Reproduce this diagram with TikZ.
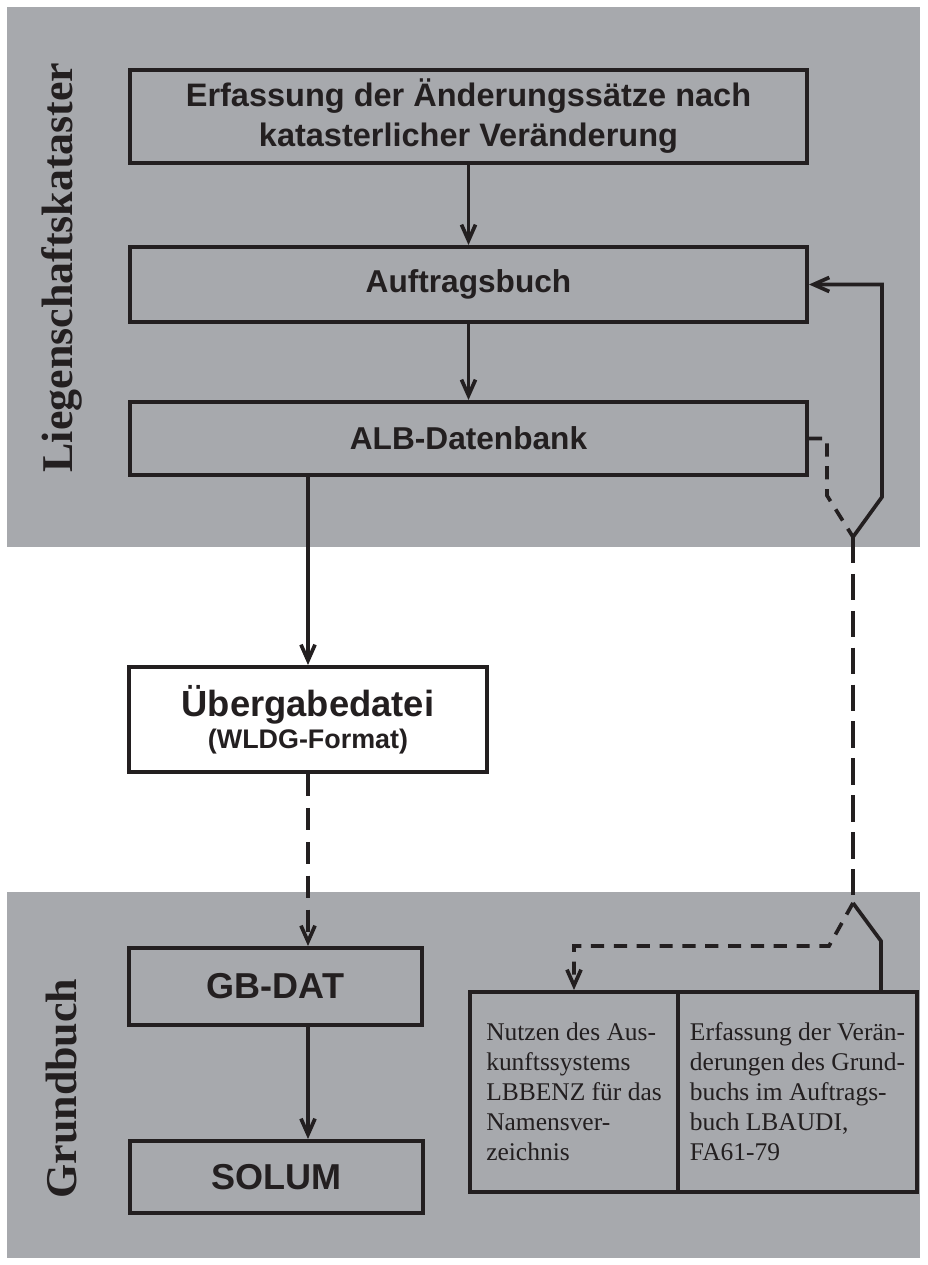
\documentclass[tikz,border=0pt]{standalone}
\usepackage{fontspec}
\setmainfont{Liberation Serif}
\setsansfont{Liberation Sans}
\usetikzlibrary{arrows.meta,positioning,calc}
\definecolor{bandgray}{RGB}{167,169,173}
\definecolor{ink}{RGB}{35,31,32}

\begin{document}
\begin{tikzpicture}[x=0.02cm, y=-0.02cm]
\tikzstyle{box} = [rectangle, draw=ink, line width=2.3pt, text=ink, inner sep=0pt, align=center, font=\sffamily\bfseries\fontsize{18}{22}\selectfont]
\tikzstyle{cell} = [rectangle, draw=ink, line width=2.3pt, text=ink, inner sep=0pt, align=left, minimum height=4cm, font=\fontsize{14.5}{17.1}\selectfont]
\tikzstyle{band} = [rotate=90, text=ink, inner sep=0pt, font=\bfseries\fontsize{25}{30}\selectfont]
\tikzstyle{arrow} = [draw=ink, line width=2.1pt, ->, >={Straight Barb[length=9pt,width=8pt]}]
\tikzstyle{line} = [draw=ink, line width=2.1pt]
\tikzstyle{longdash} = [dash pattern=on 12.5pt off 6.8pt]
\tikzstyle{railDash} = [dash pattern=on 15pt off 6pt]
\tikzstyle{shortdash} = [dash pattern=on 7.5pt off 5.5pt]

\useasboundingbox (0,0) rectangle (927,1265);

% shaded bands
\fill[bandgray] (7,7) rectangle (920,547);
\fill[bandgray] (7,892) rectangle (920,1258);

\node (kataster) [band] at (62,267.5) {Liegenschaftskataster};
\node (grundbuch) [band] at (62,1088.5) {Grundbuch};

\node (erfassung) [box, minimum width=13.54cm, minimum height=1.86cm, font=\sffamily\bfseries\fontsize{18.5}{22.8}\selectfont] at (468.5,116.5) {Erfassung der Änderungssätze nach\\katasterlicher Veränderung};
\node (auftrag) [box, minimum width=13.54cm, minimum height=1.5cm] at (468.5,284.5) {Auftragsbuch};
\node (alb) [box, minimum width=13.54cm, minimum height=1.46cm] at (468.5,438.5) {ALB-Datenbank};

\node (uebergabe) [box, fill=white, minimum width=7.16cm, minimum height=2.1cm, font=\sffamily\bfseries\fontsize{15.3}{18.2}\selectfont] at (308,719.5) {{\fontsize{20.7}{24}\selectfont Übergabedatei}\\(WLDG-Format)};

\node (gbdat) [box, minimum width=5.86cm, minimum height=1.54cm, font=\sffamily\bfseries\fontsize{20.5}{24}\selectfont] at (275.5,986.5) {GB-DAT};
\node (solum) [box, minimum width=5.86cm, minimum height=1.44cm, font=\sffamily\bfseries\fontsize{20.5}{24}\selectfont] at (276.5,1177) {SOLUM};

\node (nutzen) [cell, minimum width=4.16cm] at (574,1092) {Nutzen des Aus-\\kunftssystems\\LBBENZ für das\\Namensver-\\zeichnis};
\node (erfgb) [cell, minimum width=4.78cm] at (797.5,1092) {Erfassung der Verän-\\derungen des Grund-\\buchs im Auftrags-\\buch LBAUDI,\\FA61-79};

% main flow
\draw [arrow] (erfassung) -- (auftrag);
\draw [arrow] (auftrag) -- (alb);
\draw [arrow] (alb.south -| uebergabe.north) -- (uebergabe.north);
\draw [arrow, longdash] (uebergabe.south) -- (uebergabe.south |- gbdat.north);
\draw [arrow] (gbdat.south -| uebergabe.south) -- (solum.north -| uebergabe.south);

% side channel with the two switches
\coordinate (switchTop) at (853,537);
\coordinate (switchBot) at (853,903);
\draw [line] ([xshift=-0.76cm]erfgb.north east) -- ++(0,-49) -- (switchBot);
\draw [arrow] (switchTop) -- ++(29,-40) |- (auftrag.east);
\draw [line, railDash] (switchTop) -- (switchBot);
\draw [line, shortdash] (alb.east) -- ++(18,0) -- ++(0,57) -- (switchTop);
\draw [arrow, shortdash] (switchBot) -- ++(-24,43) -| (nutzen.north);
\end{tikzpicture}
\end{document}
